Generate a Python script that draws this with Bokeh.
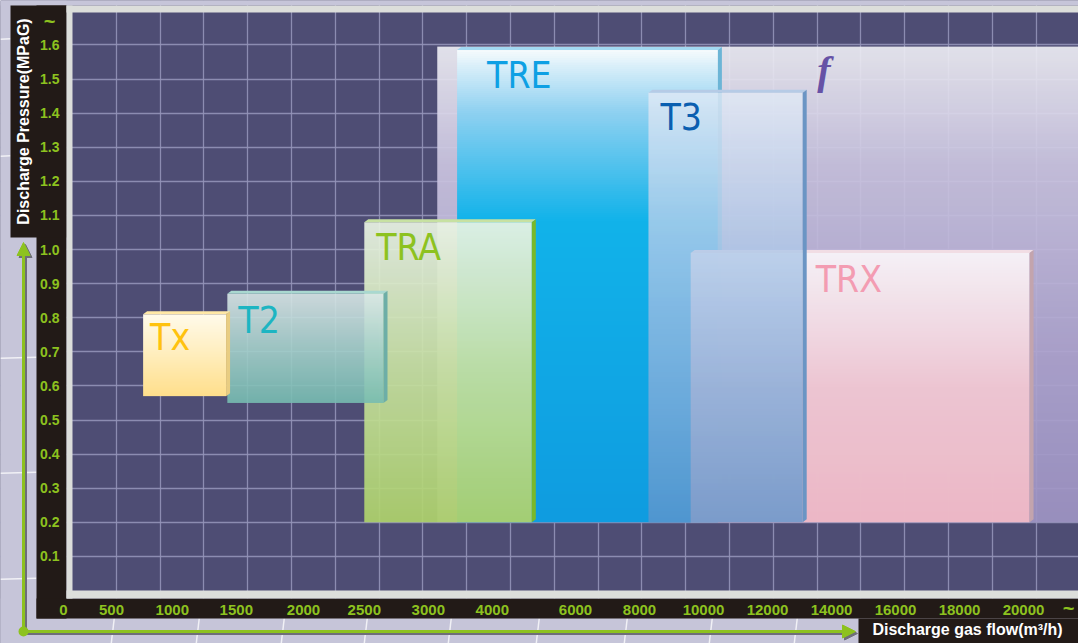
import numpy as np
from bokeh.plotting import figure
from bokeh.models import (Range1d, FixedTicker, BoxAnnotation, PolyAnnotation, Label,
                          Arrow, NormalHead, ColumnDataSource)
from bokeh.core.properties import value
from bokeh.embed import file_html
from bokeh.resources import INLINE

# ---------------- data ----------------
flow_ticks = [0, 500, 1000, 1500, 2000, 2500, 3000, 4000, 6000, 8000,
              10000, 12000, 14000, 16000, 18000, 20000]
flow_tick_labels = [str(v) for v in flow_ticks]
pressure_ticks = [0.1, 0.2, 0.3, 0.4, 0.5, 0.6, 0.7, 0.8, 0.9, 1.0,
                  1.1, 1.2, 1.3, 1.4, 1.5, 1.6]
pressure_tick_labels = ["0.1", "0.2", "0.3", "0.4", "0.5", "0.6", "0.7", "0.8",
                        "0.9", "1.0", "1.1", "1.2", "1.3", "1.4", "1.5", "1.6"]

# compressor series, back to front
models = ["f", "TRE", "TRX", "T3", "TRA", "T2", "Tx"]
flow_min = [3140, 3450, 9600, 8280, 2500, 1430, 760]      # m3/h
flow_max = [21800, 10450, 20190, 13100, 4950, 2650, 1420]  # m3/h
pres_min = [0.20, 0.20, 0.20, 0.20, 0.20, 0.55, 0.57]      # MPaG
pres_max = [1.595, 1.585, 0.99, 1.46, 1.08, 0.87, 0.81]    # MPaG

# ---------------- layout / style ----------------
W, H = 1078, 643
tick_slot = [0, 0.75, 1.7, 2.7, 3.75, 4.7, 5.7, 6.7, 8, 9, 10, 11, 12, 13, 14, 15]
PX_X, PX_Y = 64.0, 341.0     # px per slot, px per MPa
X0, Y0 = 63.0, 590.0         # canvas position of flow 0 / pressure 0

GREEN = "#8dc21f"
BLACK = "#221a17"
GREY = "#dcdedb"
LAV = "#c6c5d9"
SANS = "Liberation Sans"
COND = "DejaVu Sans Condensed"


def slot(f):
    f = np.asarray(f, dtype=float)
    s = np.interp(f, flow_ticks, tick_slot)
    slope = (tick_slot[-1] - tick_slot[-2]) / (flow_ticks[-1] - flow_ticks[-2])
    return np.where(f > flow_ticks[-1], tick_slot[-1] + (f - flow_ticks[-1]) * slope, s)


def hex2rgb(h):
    h = h.lstrip("#")
    return [int(h[i:i + 2], 16) for i in (0, 2, 4)]


def gradient(stops, alpha, n=240):
    t = np.linspace(0, 1, n)
    pos = [s[0] for s in stops]
    cols = np.array([hex2rgb(s[1]) for s in stops], dtype=float)
    arr = np.zeros((n, 2, 4), dtype=np.uint8)
    for c in range(3):
        arr[:, :, c] = np.interp(t, pos, cols[:, c])[:, None]
    arr[:, :, 3] = int(alpha * 255)
    return arr.view(np.uint32).reshape(n, 2)


styles = {
    "f":   dict(stops=[(0, "#9e94c3"), (0.35, "#afa5cf"), (0.75, "#cbc5e0"), (1, "#ededf3")],
                alpha=0.93, top=None, side=None),
    "TRE": dict(stops=[(0, "#0f9ce0"), (0.64, "#12b3ea"), (0.87, "#8fd1f1"), (1, "#f4fafd")],
                alpha=1.0, top="#a3d9f2", side="#6cb5d6"),
    "TRX": dict(stops=[(0, "#eeb8c6"), (0.5, "#efc6d2"), (1, "#f7f3f8")],
                alpha=0.98, top="#f1dde4", side="#c3a4ad"),
    "T3":  dict(stops=[(0, "#5f95cc"), (0.5, "#9dbde3"), (1, "#e2eaf6")],
                alpha=0.8, top="#b6cbe6", side="#6b95c4"),
    "TRA": dict(stops=[(0, "#aed26c"), (0.5, "#c6e0a0"), (1, "#e9f3e4")],
                alpha=0.93, top="#c7e1a2", side="#79b82a"),
    "T2":  dict(stops=[(0, "#77bcb1"), (0.5, "#a6d1cb"), (1, "#dae7e7")],
                alpha=0.9, top="#a9d8d0", side="#6daea7"),
    "Tx":  dict(stops=[(0, "#ffdf8c"), (0.5, "#ffeebd"), (1, "#fffbec")],
                alpha=1.0, top="#ffe8a6", side="#e9cd82"),
}
label_color = {"TRE": "#0ea0e4", "TRX": "#f39cb2", "T3": "#0a5fb0",
               "TRA": "#8dc21f", "T2": "#1db5c2", "Tx": "#ffc20e"}
label_offset = {"TRE": (30, 25), "TRX": (125, 27), "T3": (12, 25),
                "TRA": (12, 25), "T2": (11, 27), "Tx": (7, 23)}

# ---------------- figure (frame covers the whole canvas) ----------------
p = figure(width=W, height=H, output_backend="svg", toolbar_location=None,
           x_range=Range1d(-X0 / PX_X, (W - X0) / PX_X),
           y_range=Range1d(-(H - Y0) / PX_Y, Y0 / PX_Y),
           min_border=0, min_border_left=0, min_border_right=0,
           min_border_top=0, min_border_bottom=0,
           background_fill_color="#4e4d74", border_fill_color=LAV,
           outline_line_color=None)
p.title.visible = False

# axes, drawn at fixed places on the dark panel's edges
p.xaxis.ticker = FixedTicker(ticks=tick_slot)
p.xaxis.major_label_overrides = {float(s): l for s, l in zip(tick_slot, flow_tick_labels)}
p.xaxis.fixed_location = 0.0
p.yaxis.ticker = FixedTicker(ticks=pressure_ticks)
p.yaxis.major_label_overrides = {float(v): l for v, l in zip(pressure_ticks, pressure_tick_labels)}
p.yaxis.fixed_location = (60 - X0) / PX_X
for ax in (p.xaxis[0], p.yaxis[0]):
    ax.axis_line_color = None
    ax.major_tick_line_color = None
    ax.minor_tick_line_color = None
    ax.major_tick_out = 0
    ax.major_tick_in = 0
    ax.major_label_text_color = GREEN
    ax.major_label_text_font = SANS
    ax.major_label_text_font_style = "bold"
p.xaxis.major_label_text_font_size = "15px"
p.xaxis.major_label_standoff = 14
p.yaxis.major_label_text_font_size = "14px"
p.yaxis.major_label_standoff = 1

# decorative grid (cells of ~44 x 34 px)
grid_x = [(72 - X0) / PX_X + k * 43.8 / PX_X for k in range(1, 24)]
p.xgrid.ticker = FixedTicker(ticks=grid_x)
p.ygrid.ticker = FixedTicker(ticks=pressure_ticks)
for g in (p.xgrid[0], p.ygrid[0]):
    g.grid_line_color = "#9493b8"
    g.grid_line_width = 1.3
    g.grid_line_alpha = 0.9


# ---------------- decoration around the panel (canvas pixels) ----------------
def cbox(l, r, t, b, color, alpha=1.0):
    return BoxAnnotation(left=l, right=r, top=t, bottom=b,
                         left_units="canvas", right_units="canvas",
                         top_units="canvas", bottom_units="canvas",
                         fill_color=color, fill_alpha=alpha, line_color=None,
                         level="underlay")


def cline(xs, ys):
    return PolyAnnotation(xs=xs, ys=ys, xs_units="canvas", ys_units="canvas",
                          fill_color="white", fill_alpha=0.75, line_color=None,
                          level="underlay")


for box in [cbox(0, 66, 0, H, LAV), cbox(0, W, 598, H, LAV), cbox(0, W, 0, 5, LAV)]:
    p.add_layout(box)
# faint perspective lines of the backdrop
for yy in (38, 155):
    p.add_layout(cline([0, 10, 10, 0], [yy, yy - 0.5, yy + 1, yy + 1.5]))
for yy in (357, 472, 578):
    p.add_layout(cline([0, 36, 36, 0], [yy, yy - 1, yy + 0.5, yy + 1.5]))
for xx in (110, 195, 280, 363, 447, 535, 623, 708, 793):
    p.add_layout(cline([xx + 3, xx + 4.5, xx + 1.5, xx], [618, 618, H, H]))
for box in [cbox(36, 66, 5, 618, BLACK), cbox(10, 66, 5, 237, BLACK),
            cbox(36, W, 598, 618, BLACK), cbox(858, W, 618, H, BLACK),
            cbox(66, W, 5, 12, GREY), cbox(66, 72, 5, 598, GREY),
            cbox(66, W, 590, 598, GREY)]:
    p.add_layout(box)

# ---------------- ranges of the series ----------------
dx, dy = 4.0 / PX_X, 3.0 / PX_Y
xl = slot(flow_min)
xr = slot(flow_max)
for i, m in enumerate(models):
    st = styles[m]
    p.image_rgba(image=[gradient(st["stops"], st["alpha"])], x=[xl[i]], y=[pres_min[i]],
                 dw=[xr[i] - xl[i]], dh=[pres_max[i] - pres_min[i]])
    if st["top"]:
        p.patch([xl[i], xl[i] + dx, xr[i] + dx, xr[i]],
                [pres_max[i], pres_max[i] + dy, pres_max[i] + dy, pres_max[i]],
                fill_color=st["top"], line_color=None)
        p.patch([xr[i], xr[i] + dx, xr[i] + dx, xr[i]],
                [pres_min[i], pres_min[i] + dy, pres_max[i] + dy, pres_max[i]],
                fill_color=st["side"], line_color=None)

names = [m for m in models if m != "f"]
idx = [models.index(m) for m in names]
lab = ColumnDataSource(dict(
    x=[xl[i] for i in idx], y=[pres_max[i] for i in idx], text=names,
    color=[label_color[m] for m in names],
    xo=[label_offset[m][0] for m in names], yo=[label_offset[m][1] for m in names]))
p.text(x="x", y="y", text="text", source=lab, text_color="color",
       x_offset="xo", y_offset="yo", text_font=value(COND),
       text_font_size="37px", text_baseline="alphabetic", text_align="left")
fi = models.index("f")
p.text(x=[xl[fi]], y=[pres_max[fi]], text=["f"], x_offset=380, y_offset=24,
       text_color="#6652a6", text_font=value("Liberation Serif"),
       text_font_style="bold italic", text_font_size="40px",
       text_baseline="alphabetic", text_align="left")

# ---------------- green axis arrows with shadow ----------------
for col, off in (("#6e6e78", 2), (GREEN, 0)):
    p.add_layout(Arrow(x_start=23 + off, y_start=631 + off, x_end=23 + off, y_end=242 + off,
                       start_units="canvas", end_units="canvas",
                       line_color=col, line_width=3,
                       end=NormalHead(size=13, fill_color=col, line_color=col)))
    p.add_layout(Arrow(x_start=23 + off, y_start=631 + off, x_end=855 + off, y_end=631 + off,
                       start_units="canvas", end_units="canvas",
                       line_color=col, line_width=3,
                       end=NormalHead(size=13, fill_color=col, line_color=col)))
p.add_layout(BoxAnnotation(left=18, right=28, top=626, bottom=636, left_units="canvas",
                           right_units="canvas", top_units="canvas", bottom_units="canvas",
                           fill_color=GREEN, fill_alpha=1, line_color=None, border_radius=5))

# ---------------- axis titles and break marks ----------------
p.add_layout(Label(x=23, y=121, x_units="canvas", y_units="canvas",
                   text="Discharge Pressure(MPaG)", angle=np.pi / 2,
                   text_align="center", text_baseline="middle", text_color="white",
                   text_font=SANS, text_font_style="bold", text_font_size="16px"))
p.add_layout(Label(x=967, y=629, x_units="canvas", y_units="canvas",
                   text="Discharge gas flow(m³/h)",
                   text_align="center", text_baseline="middle", text_color="white",
                   text_font=SANS, text_font_style="bold", text_font_size="16px"))
p.add_layout(Label(x=49, y=20, x_units="canvas", y_units="canvas", text="~",
                   text_align="center", text_baseline="middle", text_color=GREEN,
                   text_font=SANS, text_font_style="bold", text_font_size="20px"))
p.add_layout(Label(x=1068, y=607, x_units="canvas", y_units="canvas", text="~",
                   text_align="center", text_baseline="middle", text_color=GREEN,
                   text_font=SANS, text_font_style="bold", text_font_size="20px"))

open("out.html", "w").write(file_html(p, INLINE))
